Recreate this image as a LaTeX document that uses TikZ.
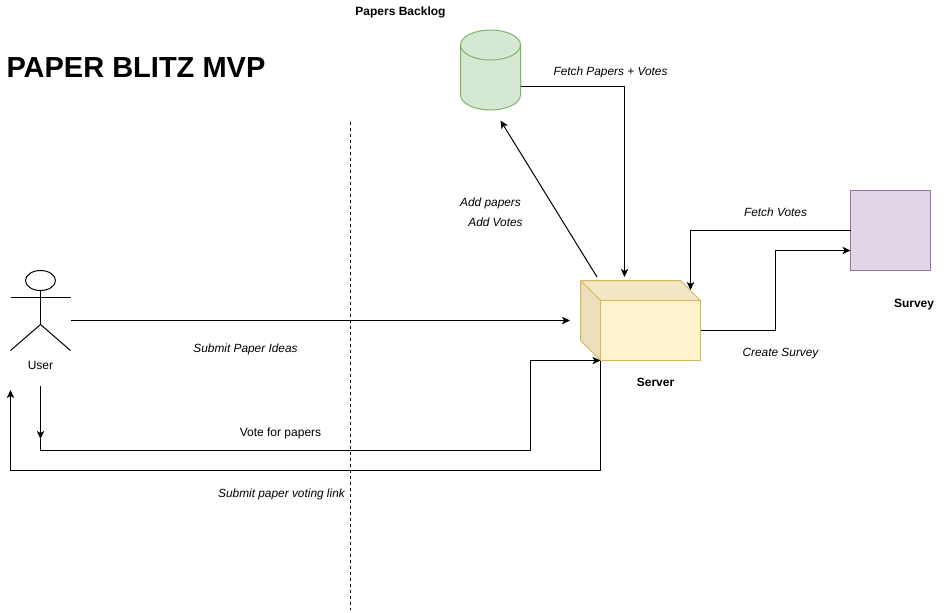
\documentclass[tikz,border=0pt]{standalone}
\usepackage{fontspec}
\setmainfont{Liberation Sans}
\usetikzlibrary{positioning, arrows.meta}
\definecolor{backlogfill}{HTML}{D5E8D4}
\definecolor{backlogline}{HTML}{82B366}
\definecolor{serverfill}{HTML}{FFF2CC}
\definecolor{serverline}{HTML}{D6B656}
\definecolor{surveyfill}{HTML}{E1D5E7}
\definecolor{surveyline}{HTML}{9673A6}

\begin{document}
\begin{tikzpicture}[
		x=0.75pt, y=-0.75pt,
		line width=0.75pt,
		arrow/.style={-{Stealth[length=6pt,width=5.5pt,inset=1.5pt]}},
		plain/.style={font=\fontsize{9}{11}\selectfont, inner sep=0pt},
		note/.style={font=\fontsize{8.9}{11}\selectfont\itshape, inner sep=0pt},
		heading/.style={font=\fontsize{9}{11}\selectfont\bfseries, inner sep=0pt},
		solid box/.style={draw, inner sep=0pt, outer sep=0pt}
		]
		\useasboundingbox (0,0) rectangle (945,612);
		
		% Title and divider
		\node[anchor=west, inner sep=0pt, font=\fontsize{21.75}{26}\selectfont\bfseries] (title) at (6,68) {PAPER BLITZ MVP};
		\coordinate (divtop) at (350.5,122);
		\coordinate (divbottom) at (350.5,610);
		\draw[dash pattern=on 2.25pt off 2.25pt] (divtop) -- (divbottom);
		
		% Papers backlog
		\draw[fill=backlogfill, draw=backlogline]
			(460.5,45) arc[start angle=180, end angle=360, x radius=30, y radius=15]
			-- (520.5,95) arc[start angle=0, end angle=180, x radius=30, y radius=15] -- cycle;
		\draw[draw=backlogline] (460.5,45) arc[start angle=180, end angle=0, x radius=30, y radius=15];
		\coordinate (backlogout) at (520.5,86.5);
		\coordinate (backlogin) at (500.5,120.5);
		\node[heading] (backlogname) at (400.5,12) {Papers Backlog};
		
		% Server
		\fill[serverfill!92!black] (580.5,280.5) -- (600.5,300.5) -- (600.5,360.5) -- (580.5,340.5) -- cycle;
		\fill[serverfill!95!black!95!white] (580.5,280.5) -- (680.5,280.5) -- (700.5,300.5) -- (600.5,300.5) -- cycle;
		\draw[serverline] (580.5,280.5) -- (680.5,280.5) -- (700.5,300.5) (580.5,280.5) -- (580.5,340.5) -- (600.5,360.5) (580.5,280.5) -- (600.5,300.5);
		\node[solid box, draw=serverline, fill=serverfill, minimum width=75pt, minimum height=45pt] (server) at (650.5,330.5) {};
		\node[heading] (servername) at (655.5,382) {Server};
		\coordinate (serverin) at (570,320.5);
		\coordinate (servertop) at (624.5,277);
		\coordinate (servercorner) at (690.5,290);
		\coordinate (serverout) at (597,277);
		
		% Survey
		\node[solid box, draw=surveyline, fill=surveyfill, minimum size=60pt] (survey) at (890.5,230.5) {};
		\node[heading] (surveyname) at (914,305) {Survey};
		\coordinate (surveyin) at (850.5,250.5);
		
		% User
		\draw (40.5,280.5) ellipse (15 and 10);
		\draw (10.5,297.5) -- (70.5,297.5);
		\draw (40.5,290.5) -- (40.5,324.5);
		\draw (10.5,350.5) -- (40.5,324.5) -- (70.5,350.5);
		\node[plain] (user) at (40.5,365) {User};
		\coordinate (userright) at (70.5,320.5);
		\coordinate (userbelow) at (40.5,386);
		\coordinate (userstop) at (40.5,439);
		\coordinate (userback) at (10.5,390);
		
		% Connectors
		\draw[arrow] (userright) -- (serverin);
		\draw[arrow] (userbelow) -- (userstop);
		\draw[arrow] (userstop) |- (530.5,450.5) |- (server.south west);
		\draw[arrow] (server.south west) |- (10.5,470.5) -- (userback);
		\draw[arrow] (serverout) -- (backlogin);
		\draw[arrow] (backlogout) -| (servertop);
		\draw[arrow] (server.east) -- (775.5,330.5) |- (surveyin);
		\draw[arrow] (survey.west) -| (servercorner);
		
		% Labels
		\node[note] (fetchpapers) at (610.5,72.5) {Fetch Papers + Votes};
		\node[note] (addpapers) at (490.5,203) {Add papers};
		\node[note] (addvotes) at (495.5,222.5) {Add Votes};
		\node[note] (fetchvotes) at (775.5,212.5) {Fetch Votes};
		\node[note] (createsurvey) at (780.5,353.5) {Create Survey};
		\node[note] (submitideas) at (245.5,349) {Submit Paper Ideas};
		\node[plain] (votepapers) at (280.5,433) {Vote for papers};
		\node[note] (votinglink) at (281.5,494) {Submit paper voting link};
		
	\end{tikzpicture}
\end{document}
